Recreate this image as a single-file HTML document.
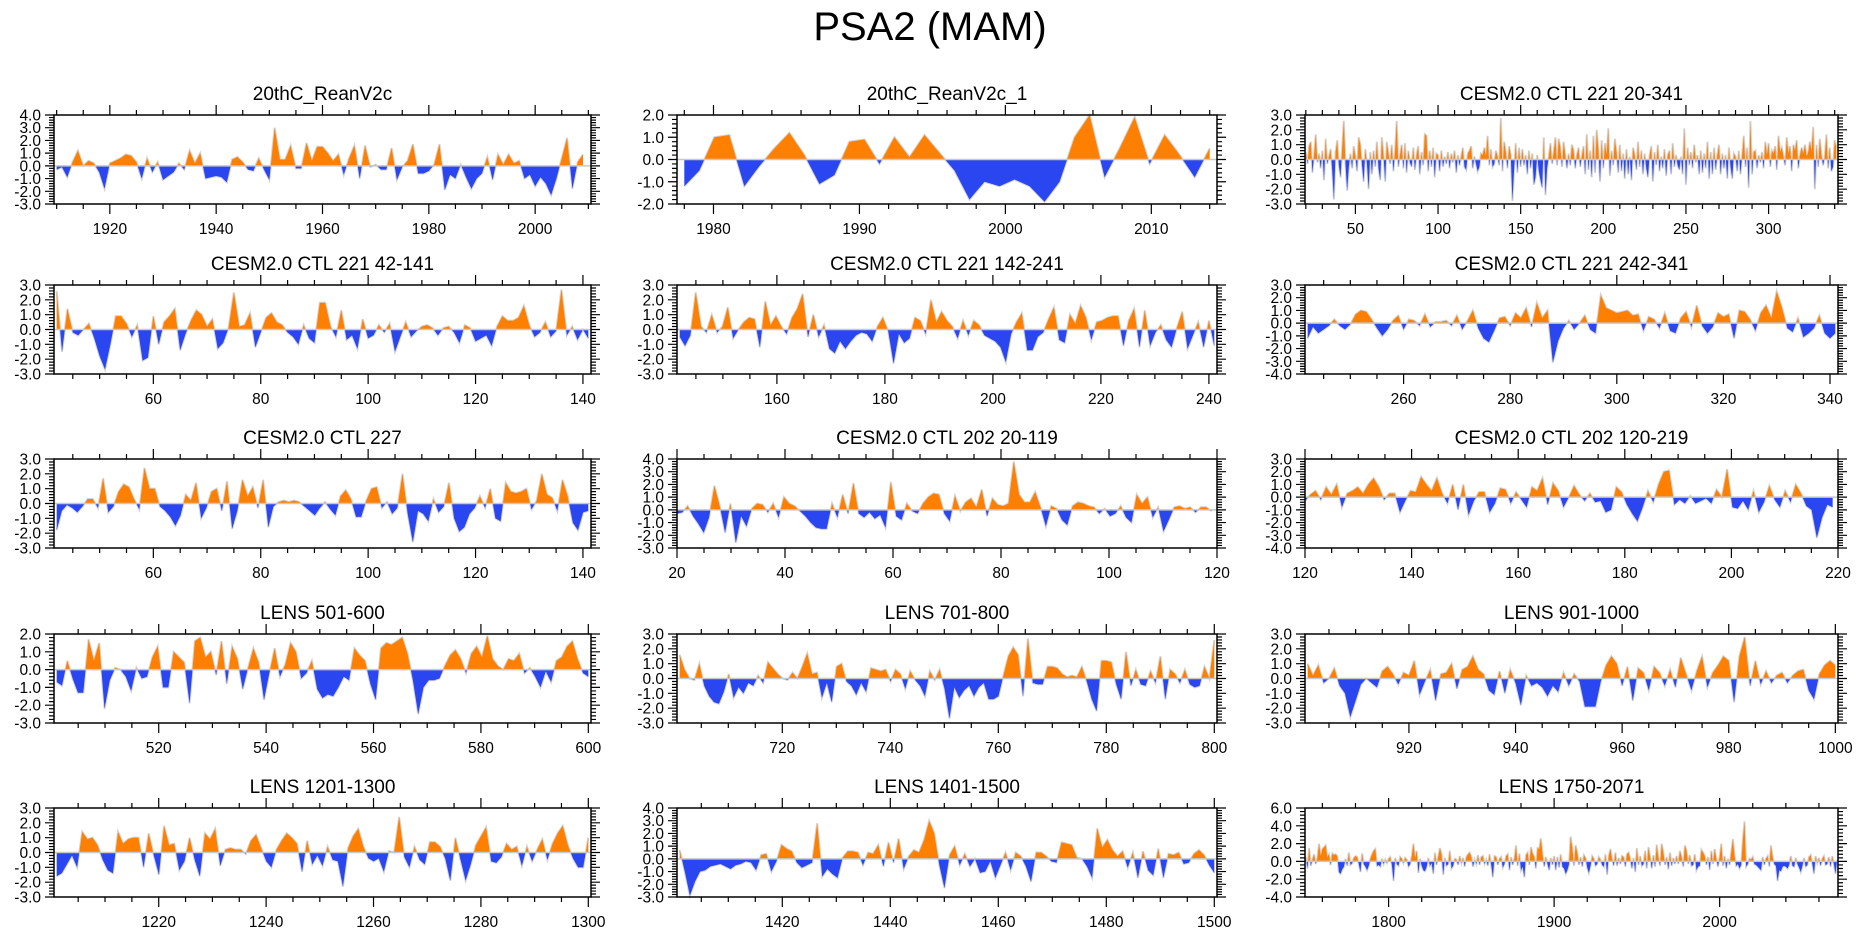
<!DOCTYPE html>
<html><head><meta charset="utf-8"><title>PSA2 (MAM)</title>
<style>
html,body{margin:0;padding:0;background:#fff;}
svg{display:block;font-family:"Liberation Sans",Arial,sans-serif;}
</style></head>
<body>
<svg id="chart" width="1861" height="936" viewBox="0 0 1861 936" xmlns="http://www.w3.org/2000/svg">
<text x="930" y="40" text-anchor="middle" font-size="40">PSA2 (MAM)</text>
</svg>
<script>
const titles=["20thC_ReanV2c","20thC_ReanV2c_1","CESM2.0 CTL 221 20-341","CESM2.0 CTL 221 42-141","CESM2.0 CTL 221 142-241","CESM2.0 CTL 221 242-341","CESM2.0 CTL 227","CESM2.0 CTL 202 20-119","CESM2.0 CTL 202 120-219","LENS 501-600","LENS 701-800","LENS 901-1000","LENS 1201-1300","LENS 1401-1500","LENS 1750-2071"];
const xStarts=[1910,1978,20,42,142,242,42,20,120,501,701,901,1201,1401,1750];
const xEnds=[2009,2014,341,141,241,341,141,119,219,600,800,1000,1300,1500,2071];
const xAxisMin=[1909.5,1977.5,19.5,41.5,141.5,241.5,41.5,20,120,500.5,700.5,900.5,1200.5,1400.5,1749.5];
const xAxisMax=[2010.5,2014.5,342,141.5,241.5,341.5,141.5,120,220,600.5,800.5,1000.5,1300.5,1500.5,2071.5];
const yMins=[-3,-2,-3,-3,-3,-4,-3,-3,-4,-3,-3,-3,-3,-3,-4];
const yMaxs=[4,2,3,3,3,3,3,4,3,2,3,3,3,4,6];
const yStepsMajor=[1,1,1,1,1,1,1,1,1,1,1,1,1,1,2];
const xMajorSteps=[20,10,50,20,20,20,20,20,20,20,20,20,20,20,100];
const xMinorSteps=[5,2,10,5,5,5,5,5,5,5,5,5,5,5,20];

const series1=[-0.3,-0.1,-0.9,0.3,1.2,0.0,0.4,0.2,-0.5,-1.8,0.2,0.4,0.6,0.9,0.8,0.3,-1.0,0.6,-0.5,0.3,-1.1,-0.8,-0.5,0.2,-0.3,1.2,0.2,1.0,-1.0,-0.9,-0.8,-0.9,-1.3,0.5,0.7,0.3,-0.3,-0.4,0.6,-0.3,-1.1,3.0,0.5,0.5,1.6,-0.2,-0.2,1.8,0.4,1.5,1.5,1.0,0.4,0.9,-0.7,0.6,1.6,-1.0,1.6,-0.1,0.1,-0.3,-0.3,1.4,-1.1,-0.1,0.4,1.7,-0.6,-0.6,-0.4,0.1,1.7,-1.9,-0.7,-1.0,0.1,-0.9,-1.8,-1.0,-0.6,0.7,-1.1,0.9,0.1,0.9,0.2,0.4,-1.0,-0.7,-1.6,-0.9,-1.4,-2.3,-1.0,0.6,2.2,-1.8,0.3,0.9];
const series2=[-1.2,-0.5,1.0,1.1,-1.2,-0.3,0.5,1.2,0.2,-1.1,-0.7,0.8,0.9,-0.2,1.0,0.1,1.1,0.3,-0.5,-1.8,-1.0,-1.2,-0.9,-1.2,-1.9,-1.0,1.0,2.0,-0.8,0.5,1.9,-0.2,1.1,0.2,-0.8,0.5];
const series3=[0.5,-0.3,0.9,1.2,-0.9,0.3,1.7,-0.2,0.4,-0.6,0.6,-1.4,1.4,-0.3,0.2,0.7,-0.8,-2.7,0.5,1.3,-0.4,-1.2,0.8,2.6,-0.3,-2.1,-0.5,0.4,-0.6,0.9,0.2,-0.8,1.5,1.0,-0.4,-1.5,0.7,-0.3,-2.0,0.5,-1.0,0.6,-0.5,1.2,-0.6,-1.4,1.5,0.3,-1.5,1.2,0.4,-0.3,1.0,-0.8,0.6,2.6,-0.5,0.3,1.0,-0.6,1.1,-0.9,0.6,-0.2,-0.5,0.8,-0.7,0.3,0.9,-1.0,0.5,-0.4,1.7,1.6,-0.8,0.6,-0.5,0.8,-1.2,0.4,0.3,-0.8,0.6,-0.5,0.2,-0.3,0.5,-0.6,0.4,-0.2,0.6,-0.9,0.3,-0.4,0.2,0.8,-0.5,-0.7,0.4,0.6,0.9,-0.6,0.2,-0.3,-0.8,-0.5,0.4,0.3,0.8,0.2,1.6,-0.4,0.7,-0.5,-0.3,0.6,0.2,-0.4,2.8,-0.8,1.2,0.5,-0.6,0.9,0.3,-2.8,-0.7,1.1,-0.9,0.8,-0.5,0.7,-0.4,0.3,-1.0,0.6,-0.6,0.4,-1.7,-1.2,0.3,-0.8,-1.4,-1.9,1.5,-2.4,-0.6,0.2,1.1,-0.3,0.5,1.5,-0.4,1.4,0.8,-0.5,1.2,0.3,-0.6,0.4,-0.4,1.0,0.6,-0.6,0.3,0.8,-0.5,0.2,0.9,-1.0,1.7,-0.7,0.6,-1.2,1.6,-0.9,2.0,0.7,-1.5,1.3,-0.6,1.1,0.3,2.1,-1.1,0.6,-0.4,1.4,0.5,-0.9,1.0,-0.8,0.4,-1.3,0.7,-1.0,0.2,-1.4,0.8,0.3,-0.7,1.2,-0.5,0.6,-1.0,0.4,-0.6,-1.2,0.3,0.9,-1.5,0.5,-0.4,1.0,-0.8,0.2,-0.6,0.7,-1.1,0.3,0.6,-1.0,1.1,-0.5,0.3,-0.4,-0.7,0.2,-1.0,2.1,-1.7,0.8,-0.4,0.5,-0.6,1.0,-0.2,0.3,-1.0,0.6,-0.9,0.4,-0.6,1.2,-1.3,0.5,-1.0,0.8,-0.7,0.3,1.0,-1.0,0.4,-0.6,0.3,-1.3,0.8,-0.5,-1.3,0.4,0.2,-0.8,0.6,-1.0,0.3,1.6,-0.5,0.8,-1.9,2.6,-1.0,0.5,0.6,-0.6,0.3,-0.2,0.5,-0.6,1.2,0.3,1.1,-0.5,0.6,0.4,0.9,-0.7,1.6,0.5,0.8,0.2,-0.4,1.5,0.4,0.9,-0.8,1.0,0.6,1.3,-0.6,0.3,0.8,0.4,1.0,0.2,0.5,1.2,0.6,2.2,-2.0,1.0,-0.5,1.4,0.3,-0.4,0.2,1.7,-0.6,0.8,-0.8,-0.5,1.3,0.8];
const series4=[2.6,-1.5,1.4,-0.2,-0.4,0.0,0.4,-0.6,-1.8,-2.7,-1.0,0.9,0.9,0.4,-0.5,0.3,-2.1,-1.9,0.9,-1.0,0.5,0.9,1.4,-1.4,-0.3,0.6,1.3,1.0,0.2,0.7,-1.3,-0.9,0.1,2.5,0.2,0.3,1.1,-1.2,-0.2,0.8,1.1,0.5,0.3,-0.2,-0.5,-1.0,0.3,-0.6,-0.9,1.8,1.8,0.2,-0.5,1.3,-0.7,-0.4,-1.3,0.7,-0.6,-0.4,0.3,-0.2,0.4,-1.5,-0.5,0.5,-0.5,-0.1,0.2,0.3,0.1,-0.4,0.1,0.2,-0.2,-0.9,0.3,0.1,-0.8,-0.6,-0.4,-1.1,0.2,0.9,0.6,0.6,0.8,1.6,0.3,-0.5,-0.2,0.5,-0.5,-0.1,2.7,-0.4,0.2,-0.7,0.0,-0.6];
const series5=[-0.5,-1.1,-0.4,2.5,0.2,-0.2,1.0,-0.2,0.2,1.5,-0.6,0.0,0.5,0.8,0.7,-1.2,1.9,0.3,0.9,0.2,-0.3,0.8,1.4,2.4,-0.5,1.0,-0.5,0.3,-1.3,-1.6,-0.8,-1.3,-0.8,-0.4,-0.2,-0.3,-0.8,0.2,0.8,-0.1,-2.3,-0.3,-0.9,-0.6,0.8,0.6,-0.3,2.0,0.5,1.2,0.6,0.2,-0.6,0.6,-0.4,0.6,0.3,-0.4,-0.6,-0.8,-1.2,-2.2,-0.3,0.5,1.1,-1.4,-1.4,-0.5,-0.2,0.7,1.5,-0.7,-0.9,1.0,0.4,1.6,0.8,-0.7,0.5,0.6,0.8,0.9,0.9,-1.1,0.6,1.4,-1.2,1.3,-1.1,-0.2,0.3,-0.7,-1.2,0.1,1.2,-1.3,-0.4,0.5,-1.2,0.6,-1.1];
const series6=[-1.2,-0.3,-0.8,-0.5,-0.2,0.3,-0.2,-0.5,-0.1,0.7,1.0,0.9,0.3,-0.4,-1.0,-0.5,0.2,0.6,-0.5,0.3,0.2,-0.2,0.7,-0.3,0.1,0.1,0.2,-0.2,0.6,-0.5,0.2,1.0,-0.4,-1.2,-1.5,-0.6,0.4,0.5,-0.2,0.8,0.4,1.2,-0.3,1.6,0.4,1.0,-3.1,-1.4,-0.4,0.2,-0.5,0.0,0.6,-0.5,-0.8,2.2,1.2,1.0,0.8,0.9,1.0,0.6,0.7,-0.6,0.5,0.3,-0.4,0.8,-0.6,-0.8,0.4,0.9,-0.3,1.4,-0.2,-0.8,-0.3,0.8,0.5,0.7,-1.2,1.0,0.9,0.3,-0.6,0.8,1.4,0.4,2.5,1.2,-0.4,-0.7,0.4,-1.1,-0.8,-0.4,0.6,-0.8,-1.2,-0.8];
const series7=[-1.8,-0.5,-0.1,-0.3,-0.6,-0.2,0.3,0.3,-0.3,1.7,-0.6,-0.2,0.8,1.3,1.1,0.3,-0.4,2.4,1.0,1.0,-0.2,-0.5,-0.9,-1.5,-0.8,0.6,0.2,1.4,-1.0,-0.3,0.8,1.0,-0.5,1.5,-1.7,-0.5,1.6,0.5,1.1,-0.3,1.6,-1.6,-0.2,0.1,0.2,0.1,0.2,0.1,-0.2,-0.5,-0.8,-0.3,0.1,-0.4,-0.8,0.5,0.9,0.3,-0.9,-0.9,0.2,1.0,1.1,-0.3,0.1,-0.7,-0.3,2.0,-0.7,-2.6,-0.5,-0.7,-1.2,0.3,-0.6,-0.2,1.4,-1.0,-1.9,-1.6,-0.7,-0.3,0.5,-0.3,1.0,-1.0,-1.2,1.4,0.8,0.7,0.8,1.0,-0.4,0.2,2.0,0.6,0.4,-0.5,1.6,0.5,-1.3,-1.8,-0.6,-0.5];
const series8=[-0.3,-0.2,0.3,-0.5,-1.1,-1.8,-0.6,1.9,0.3,-1.8,0.5,-2.6,-0.5,-1.3,0.1,0.5,0.4,-0.2,0.5,-0.6,1.0,0.5,0.3,-0.1,-0.5,-1.0,-1.4,-1.5,-1.5,0.5,-0.6,1.2,-0.3,2.1,-0.3,-0.6,-0.2,-0.7,-0.4,-1.4,2.2,-0.5,-0.8,0.5,-0.1,-0.3,0.5,1.0,1.3,1.2,-0.3,-0.9,1.1,-0.1,0.6,0.9,0.2,1.6,-0.5,0.9,0.4,0.3,0.5,3.8,1.2,0.6,0.6,1.4,0.2,-1.3,0.3,0.1,-0.8,-1.2,0.3,0.6,0.5,0.3,0.2,-0.3,0.1,-0.5,-0.3,0.3,-0.6,-1.0,1.2,0.5,1.0,-0.6,0.2,-1.7,-0.8,0.2,0.3,0.1,0.2,-0.2,0.2,0.2,-0.1];
const series9=[-0.3,0.2,0.5,-0.2,0.8,0.2,1.0,-0.8,0.3,0.5,0.8,0.3,1.0,1.5,0.8,-0.2,0.3,0.3,-1.2,-0.3,0.5,0.4,1.6,1.0,0.5,1.5,0.3,-0.5,1.0,-1.0,1.0,-1.4,-0.3,0.4,0.4,-1.2,-0.5,0.7,0.6,-0.5,0.4,-0.2,-0.8,0.8,0.5,1.5,-0.6,1.1,0.5,-0.8,0.0,0.9,0.2,-0.3,0.3,-0.4,-0.3,-1.2,-1.0,0.8,0.4,-0.6,-1.3,-1.9,-0.8,0.5,-0.4,1.0,2.0,2.1,-0.6,-0.2,-0.5,0.1,-0.5,-0.3,-0.1,-0.5,0.6,0.0,2.2,-0.8,-0.9,-0.3,-1.0,0.5,-1.2,-0.4,0.9,-0.2,-0.8,0.5,-0.4,1.0,0.3,-0.7,-1.0,-3.2,-1.6,-0.6,-0.8];
const series10=[-0.7,-0.9,0.5,-0.5,-1.3,-1.3,1.7,0.5,1.5,-2.2,-0.6,0.1,0.0,-0.4,-1.2,0.1,-0.5,-0.4,0.7,1.3,-1.0,-1.0,1.0,0.7,0.4,-1.9,1.6,1.8,0.7,1.0,-0.3,1.6,-0.8,1.3,0.6,-1.1,0.1,1.2,0.4,-1.7,-0.2,1.2,-0.4,0.3,1.5,1.0,-0.5,-0.2,0.5,-1.1,-1.6,-1.4,-1.5,-1.0,-0.4,-0.6,1.2,0.8,0.5,-0.8,-1.7,1.2,1.5,1.4,1.6,1.8,0.9,-0.6,-2.5,-1.0,-0.6,-0.6,-0.5,0.2,0.8,1.1,0.6,-0.2,0.9,1.3,0.7,1.9,0.6,0.2,0.0,0.6,0.5,0.9,-0.2,0.1,-0.4,-1.0,-0.1,-0.7,0.5,0.7,1.3,1.6,0.6,-0.2,-0.4];
const series11=[1.6,0.6,0.0,-0.1,1.0,-0.5,-1.2,-1.6,-1.7,-0.9,0.3,-1.3,-0.6,-1.0,-0.3,-0.5,0.2,-0.3,1.1,0.7,0.3,0.0,-0.1,0.4,0.0,0.8,1.7,0.3,0.4,-1.3,-0.3,-1.6,0.8,1.0,-0.2,-0.5,-1.1,-0.3,-0.9,0.7,0.6,0.5,0.6,-0.2,0.6,0.3,-0.7,0.5,-0.1,-0.5,-1.2,0.5,-0.1,0.6,-0.7,-2.7,-0.6,-1.3,-0.8,-0.5,-1.2,-0.6,-0.3,-1.4,-1.4,-1.2,0.2,1.5,2.1,1.6,-1.2,2.7,-0.3,-0.4,-0.4,0.8,0.8,0.7,0.3,0.1,0.2,0.1,0.8,-0.2,-1.4,-2.2,1.2,1.2,1.1,-0.4,-1.4,1.8,-0.5,0.6,-0.4,-0.5,0.5,-0.3,1.5,-1.4,0.6,0.3,-0.3,0.6,-0.4,-0.6,-0.5,0.8,0.0,2.6];
const series12=[1.0,0.2,0.9,-0.3,0.0,0.7,-0.5,-1.0,-2.6,-1.5,-0.4,0.0,-0.3,-0.6,0.5,0.8,0.3,-0.4,0.4,0.2,1.2,-1.1,-0.2,0.6,-1.5,0.3,0.4,1.0,-0.7,0.6,0.8,1.5,0.6,0.3,-0.8,-1.1,0.5,-1.0,0.6,-0.3,-1.8,0.2,-0.5,-0.3,-0.6,-1.2,-0.5,-0.9,0.4,-0.5,0.3,-0.2,-1.9,-1.9,-1.9,-0.2,0.9,1.5,1.0,-0.5,0.8,-1.5,0.7,0.4,-0.8,0.8,0.4,-0.5,0.6,-0.6,1.4,0.3,-0.8,0.5,1.5,-0.6,0.4,0.9,1.5,1.2,-1.6,1.5,2.8,-0.5,1.2,-0.4,0.5,-0.3,0.2,0.4,-0.3,0.2,0.5,0.6,-0.8,-1.4,0.3,0.9,1.2,0.9];
const series13=[-1.6,-1.4,-0.8,-0.2,-1.0,1.4,0.9,1.0,0.5,-0.5,-1.2,-1.4,1.4,0.6,0.9,1.0,1.0,-1.0,1.3,-0.2,-1.5,1.8,0.5,0.6,-1.2,-0.6,1.0,-0.5,-1.6,1.3,0.9,1.6,-0.9,0.2,0.3,0.2,0.2,-0.1,0.8,1.2,0.3,-0.6,-1.0,0.2,0.8,1.3,1.0,0.6,-1.3,0.8,-0.8,-0.2,-0.9,0.4,-0.5,-0.6,-2.3,0.3,1.1,1.6,0.4,-0.4,-0.6,-0.4,-1.3,0.1,0.0,2.4,-0.3,-1.0,0.4,-0.5,-0.8,0.7,0.7,0.4,-0.4,-1.9,1.0,-0.5,-1.9,-0.8,0.5,1.1,1.7,-0.6,-0.7,-0.3,0.6,0.2,0.4,-0.9,0.4,-0.6,0.2,0.9,-0.5,0.6,1.3,1.8,0.5,-0.4,-1.0,-1.0,1.0];
const series14=[0.7,-1.0,-2.9,-1.8,-1.0,-0.9,-0.6,-0.5,-0.4,-0.6,-0.8,-0.5,-0.4,-0.2,-0.3,-0.9,0.3,0.4,-1.0,-0.2,1.1,0.8,0.6,-0.3,-0.7,-0.5,-0.3,2.8,-1.4,-0.8,-1.2,-1.5,0.1,0.6,0.6,0.5,-0.5,0.5,0.4,1.1,-0.6,1.3,-0.3,1.6,-0.8,0.2,0.7,0.5,1.5,3.0,2.0,-0.5,-2.3,0.3,1.0,-0.5,0.4,-0.6,0.0,-1.1,-1.0,-0.2,-1.5,-0.5,0.5,-0.9,0.5,0.2,-0.6,-1.8,0.5,0.5,0.2,-0.2,-0.3,1.3,1.2,1.1,0.1,0.0,-0.6,-1.5,2.4,0.9,1.5,0.7,0.2,0.6,-0.7,0.5,-1.5,0.6,-0.9,-1.3,0.8,-1.5,0.4,0.3,0.5,-0.4,-0.3,0.4,0.7,0.3,-0.5,-1.1];
const series15=[0.5,-0.8,1.5,-0.5,0.2,0.8,-0.3,0.4,2.0,0.6,1.4,1.6,1.8,0.5,0.8,-0.4,0.9,0.7,0.8,0.6,-1.2,-1.4,-0.9,-0.6,0.3,-0.5,1.0,-0.4,-0.2,0.4,0.6,0.5,-0.3,-1.2,0.9,-0.3,-0.6,-1.0,-0.5,0.3,0.8,1.2,1.4,-0.5,-0.4,-0.6,0.3,-0.3,0.2,-0.2,0.3,0.5,-0.4,-2.2,0.4,-0.3,-0.5,0.5,0.3,-0.2,0.4,0.2,-0.6,-0.3,0.6,2.0,0.4,1.2,-1.3,0.3,-0.5,-1.0,-1.1,-0.6,0.4,-0.5,-0.2,-1.4,1.0,-0.4,0.5,1.5,0.8,-1.5,0.4,-0.5,-0.3,1.2,-0.8,-0.5,0.3,0.2,-0.4,0.6,-0.2,0.4,-0.6,0.5,0.8,1.0,0.5,-0.6,0.2,-0.3,0.7,-0.4,0.5,0.6,-0.3,0.2,-0.5,0.8,-0.4,-1.8,0.6,0.5,-0.4,0.3,0.5,-0.7,-0.3,0.6,0.8,-1.0,0.5,-0.4,0.3,1.8,-0.5,0.9,-1.0,-0.6,-1.8,0.7,1.0,-0.4,1.6,0.9,0.5,-0.8,1.5,1.4,2.6,0.8,-0.6,0.5,-0.3,-1.0,0.4,-0.4,0.6,-1.0,0.5,-0.7,0.8,-0.6,-0.8,-1.4,-1.0,-0.3,2.8,1.5,-0.5,1.8,1.0,-0.4,0.5,-0.6,0.7,0.4,-0.7,-1.3,-0.5,0.6,0.3,-0.5,-0.3,0.5,0.2,-0.4,-0.6,0.8,-1.5,0.6,1.4,0.3,-0.5,1.0,-0.5,0.4,-0.3,0.6,0.5,-0.6,0.8,1.0,0.3,-0.8,0.4,-1.2,1.5,-0.4,0.6,-0.5,-0.3,1.2,-0.8,1.6,0.5,-0.8,0.7,-0.6,1.9,0.4,-0.5,2.0,1.0,-0.4,0.5,-0.9,1.0,-0.5,0.4,-0.3,0.6,-0.3,1.2,0.5,-0.6,1.8,1.2,-0.3,0.7,-0.5,-0.4,0.8,-1.0,-0.6,-0.5,1.3,1.0,0.6,-0.4,0.5,-1.0,1.2,-0.3,1.4,0.3,-0.6,0.5,2.0,-0.5,0.6,-0.8,0.3,-0.4,1.0,2.5,0.6,-0.5,-0.3,-0.8,-0.4,2.4,4.5,-0.6,-0.3,0.3,0.2,0.5,-0.3,-0.4,-0.6,-0.8,-1.0,0.5,-0.4,0.3,0.6,-0.6,1.8,0.5,-0.3,-0.5,-2.2,-1.0,-1.1,-0.6,-0.5,-0.6,-0.8,-0.4,0.6,-0.5,-0.6,0.4,-0.3,-0.7,-1.2,-0.5,0.4,-0.6,-0.4,0.5,0.7,-0.3,-1.4,0.6,-0.2,0.4,-0.5,0.3,0.6,-0.4,-0.3,0.5,-0.6,0.6,-0.3,-1.4,0.2];
const allSeries=[series1,series2,series3,series4,series5,series6,series7,series8,series9,series10,series11,series12,series13,series14,series15];

const colLeft=[54,677,1305], colWidth=[537,540,533];
const rowTop=[115,285,459,634,808], plotH=89;
const ORANGE="#ff8000", BLUE="#2a46f0";
const svg=document.getElementById('chart');
const NS="http://www.w3.org/2000/svg";
function el(tag,parent){const e=document.createElementNS(NS,tag);parent.appendChild(e);return e;}
function fmt(v){return (Math.abs(v)<1e-9?0:v).toFixed(1);}

for(let p=0;p<15;p++){
  const L=colLeft[p%3], W=colWidth[p%3], T=rowTop[Math.floor(p/3)], H=plotH;
  const xa=xAxisMin[p], xb=xAxisMax[p], ya=yMins[p], yb=yMaxs[p];
  const X=v=>L+(v-xa)/(xb-xa)*W;
  const Y=v=>T+(yb-v)/(yb-ya)*H;
  const data=allSeries[p], n=data.length;
  const g=el('g',svg);
  
  
  const t=el('text',g);
  t.setAttribute('x',L+W/2);t.setAttribute('y',T-15);t.setAttribute('text-anchor','middle');t.setAttribute('font-size','19');
  t.textContent=titles[p];
  
  
  const y0=Y(0);
  const cid='c'+p;
  const defs=el('defs',g);
  const cpA=el('clipPath',defs);cpA.setAttribute('id',cid+'a');
  const ra=el('rect',cpA);ra.setAttribute('x',L);ra.setAttribute('y',T);ra.setAttribute('width',W);ra.setAttribute('height',y0-T);
  const cpB=el('clipPath',defs);cpB.setAttribute('id',cid+'b');
  const rb=el('rect',cpB);rb.setAttribute('x',L);rb.setAttribute('y',y0);rb.setAttribute('width',W);rb.setAttribute('height',T+H-y0);
  const xs=data.map((v,i)=>xStarts[p]+i*(xEnds[p]-xStarts[p])/(n-1));
  let pts=data.map((v,i)=>X(xs[i]).toFixed(2)+','+Y(v).toFixed(2));
  const line=el('polyline',g);
  line.setAttribute('points',pts.join(' '));line.setAttribute('fill','none');line.setAttribute('stroke','#d4d4d4');line.setAttribute('stroke-width','2');
  
  
  const dPath='M'+X(xs[0]).toFixed(2)+','+y0.toFixed(2)+' L'+pts.join(' L')+' L'+X(xs[n-1]).toFixed(2)+','+y0.toFixed(2)+' Z';
  const pos=el('path',g);pos.setAttribute('d',dPath);pos.setAttribute('fill',ORANGE);pos.setAttribute('clip-path','url(#'+cid+'a)');
  
  
  const neg=el('path',g);neg.setAttribute('d',dPath);neg.setAttribute('fill',BLUE);neg.setAttribute('clip-path','url(#'+cid+'b)');
  
  
  const zl=el('line',g);zl.setAttribute('x1',L);zl.setAttribute('x2',L+W);zl.setAttribute('y1',y0);zl.setAttribute('y2',y0);zl.setAttribute('stroke','#c8c8c8');zl.setAttribute('stroke-width','1.5');
  
  
  const fr=el('rect',g);fr.setAttribute('x',L);fr.setAttribute('y',T);fr.setAttribute('width',W);fr.setAttribute('height',H);fr.setAttribute('fill','none');fr.setAttribute('stroke','#000');fr.setAttribute('stroke-width','1.5');
  
  
  let tk='';
  const ys=yStepsMajor[p], ym=ys/5;
  for(let v=ya;v<=yb+1e-9;v+=ym){
    const yy=Y(v).toFixed(2);
    const major=Math.abs(v/ys-Math.round(v/ys))<1e-6;
    const len=major?9:5;
    tk+=`M${L},${yy}h${-len}M${L+W},${yy}h${len}`;
    if(major){
      const lab=el('text',g);
      lab.setAttribute('x',L-13);lab.setAttribute('y',+yy+5.5);lab.setAttribute('text-anchor','end');lab.setAttribute('font-size','15.5');
      lab.textContent=fmt(v);
      
      
    }
  }
  const mj=xMajorSteps[p], mn=xMinorSteps[p];
  for(let v=Math.ceil(xa/mn)*mn;v<=xb+1e-9;v+=mn){
    const xx=X(v).toFixed(2);
    const major=v%mj===0;
    const len=major?10:5;
    tk+=`M${xx},${T+H}v${len}M${xx},${T}v${-len}`;
    if(major){
      const lab=el('text',g);
      lab.setAttribute('x',xx);lab.setAttribute('y',T+H+30);lab.setAttribute('text-anchor','middle');lab.setAttribute('font-size','15.5');
      lab.textContent=v;
      
      
    }
  }
  const tp=el('path',g);tp.setAttribute('d',tk);tp.setAttribute('stroke','#000');tp.setAttribute('stroke-width','1.2');tp.setAttribute('fill','none');
  
  
}
</script>
</body></html>
